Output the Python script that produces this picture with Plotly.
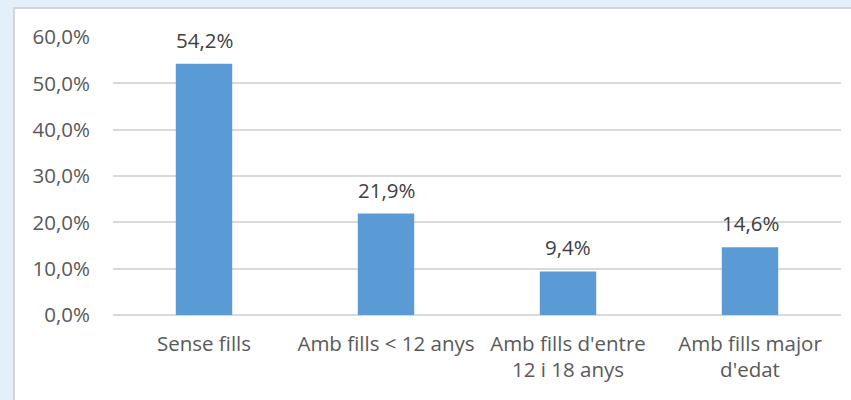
import plotly.graph_objects as go

categories = ["Sense fills", "Amb fills < 12 anys", "Amb fills d'entre<br>12 i 18 anys", "Amb fills major<br>d'edat"]
values = [54.2, 21.9, 9.4, 14.6]
tick_vals = [0, 10, 20, 30, 40, 50, 60]
tick_text = ["0,0%", "10,0%", "20,0%", "30,0%", "40,0%", "50,0%", "60,0%"]
labels = [f"{v:.1f}%".replace(".", ",") for v in values]

FONT = "Open Sans"
TXT = "#595959"
FS = 20.5

fig = go.Figure()
fig.add_trace(go.Bar(
    x=categories, y=values,
    marker=dict(color="#5B9BD5", line=dict(width=0)),
))

for c, v, t in zip(categories, values, labels):
    fig.add_annotation(x=c, y=v, text=t, showarrow=False, yanchor="bottom", yshift=8,
                       font=dict(family=FONT, size=FS, color="#404040"))

fig.update_layout(
    width=851, height=400,
    margin=dict(l=113, r=10, t=37, b=85),
    paper_bgcolor="#E3F0FA",
    plot_bgcolor="white",
    bargap=0.69,
    showlegend=False,
    font=dict(family=FONT, size=FS, color=TXT),
    xaxis=dict(showgrid=False, showline=False, ticks="", tickfont=dict(size=FS, color=TXT),
               ticklabelstandoff=14),
    yaxis=dict(range=[0, 60], tickvals=tick_vals, ticktext=tick_text, showgrid=True,
               gridcolor="#D9D9D9", gridwidth=1.5, zeroline=True, zerolinecolor="#D9D9D9",
               zerolinewidth=1.5, showline=False, tickfont=dict(size=FS, color=TXT),
               ticklabelstandoff=22),
    shapes=[dict(type="rect", xref="paper", yref="paper", x0=-0.136, x1=1.2, y0=-0.5, y1=1.104,
                 fillcolor="white", line=dict(color="#D4D4D4", width=2), layer="below")],
)

fig.write_html("out.html", config={"displayModeBar": False},
               post_script="document.body.style.margin='0';document.body.style.background='#E3F0FA';")
